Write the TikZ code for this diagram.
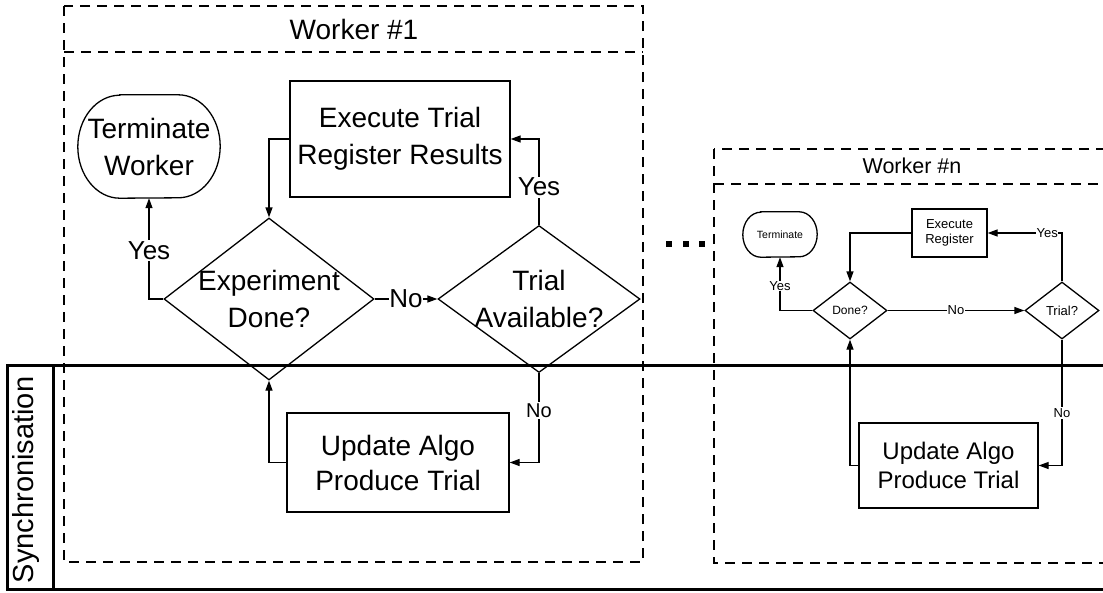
\documentclass[tikz,border=0pt]{standalone}
\usepackage{fontspec}
\setmainfont{Liberation Sans}
\usetikzlibrary{shapes.geometric,arrows.meta,calc}

\tikzset{
  lane/.style={line width=1.2pt, dash pattern=on 10pt off 7pt},
  band/.style={line width=3pt},
  boxline/.style={line width=1.3pt},
  proc/.style={draw, boxline, align=center, inner sep=0pt},
  termtxt/.style={align=center, inner sep=0pt},
  dec/.style={draw, diamond, boxline, inner sep=0pt, aspect=1},
  conn/.style={line width=1.3pt, -{Triangle[length=10pt,width=7pt]}},
  lbl/.style={fill=white, inner sep=1.5pt},
  fbig/.style={font=\fontsize{28}{37}\selectfont},
  fupd/.style={font=\fontsize{28}{35}\selectfont},
  fyes/.style={font=\fontsize{26}{30}\selectfont},
  fno/.style={font=\fontsize{20}{24}\selectfont},
  fsmall/.style={font=\fontsize{13}{15}\selectfont},
  ftiny/.style={font=\fontsize{10.5}{13}\selectfont},
  fmid/.style={font=\fontsize{24}{29}\selectfont},
}

% outline of a terminator: straight top and bottom, elliptic ends
\newcommand\termoutline[3]{%
  \draw[boxline] ($(#1.north west)+(#2,0)$) -- ($(#1.north east)+(-#2,0)$)
    arc[start angle=90, end angle=-90, x radius=#2, y radius=#3]
    -- ($(#1.south west)+(#2,0)$)
    arc[start angle=270, end angle=90, x radius=#2, y radius=#3] -- cycle;}

\begin{document}
\begin{tikzpicture}[x=1pt, y=1pt]
\useasboundingbox (0,0) rectangle (1103,-592);
\clip (0,0) rectangle (1103,-592);
\fill[white] (0,0) rectangle (1103,-592);

% synchronisation band
\draw[band] (7,-365) rectangle (1120,-589);
\draw[band] (53,-365) -- (53,-589);
\node[rotate=90, font=\fontsize{29}{34}\selectfont] (sync) at (26,-480) {Synchronisation};

% ---------------- worker 1 ----------------
\draw[lane] (64,-6) rectangle (643,-562);
\draw[lane] (64,-52) -- (643,-52);
\node[fbig] (w1) at (354,-29) {Worker \#1};

\node[termtxt, fbig, minimum width=142pt, minimum height=103pt] (tm1) at (149,-146.5) {Terminate\\Worker};
\termoutline{tm1}{42}{51.5}
\node[proc, fbig, minimum width=220pt, minimum height=116pt] (ex1) at (400,-139) {Execute Trial\\Register Results};
\node[dec, minimum width=210pt, minimum height=162pt,
      label={[fbig, align=center]center:{Experiment\\Done?}}] (dn1) at (269,-299) {};
\node[dec, minimum width=202pt, minimum height=147pt,
      label={[fbig, align=center]center:{Trial\\Available?}}] (tr1) at (539,-299) {};
\node[proc, fupd, minimum width=222pt, minimum height=99pt] (up1) at (398,-462.5) {Update Algo\\Produce Trial};

\draw[conn] (ex1.west) -| (dn1.north);
\draw[conn] (tr1.north) |- node[lbl, fyes, pos=0.22] {Yes} (ex1.east);
\draw[conn] (dn1.west) -| node[lbl, fyes, pos=0.74] {Yes} (tm1.south);
\draw[conn] (dn1.east) -- node[lbl, fyes, inner sep=0.5pt] {No} (tr1.west);
\draw[conn] (up1.west) -| (dn1.south);
\draw[conn] (tr1.south) |- node[lbl, fno, pos=0.21] {No} (up1.east);

% ellipsis between workers
\foreach \dx in {669,686,702}
  \fill (\dx-2.8,-241.2) rectangle (\dx+2.8,-246.8);

% ---------------- worker n ----------------
\draw[lane] (714,-149) rectangle (1125,-563);
\draw[lane] (714,-184) -- (1125,-184);
\node[font=\fontsize{21.5}{26}\selectfont] (wn) at (912,-166) {Worker \#n};

\node[termtxt, ftiny, minimum width=74pt, minimum height=45pt] (tmn) at (780,-234.5) {Terminate};
\termoutline{tmn}{18}{22.5}
\node[proc, fsmall, minimum width=75pt, minimum height=48pt] (exn) at (949.5,-233) {Execute\\Register};
\node[dec, minimum width=74pt, minimum height=57pt,
      label={[font=\fontsize{12}{14}\selectfont]center:Done?}] (dnn) at (850,-310.5) {};
\node[dec, minimum width=74pt, minimum height=57pt,
      label={[fsmall]center:Trial?}] (trn) at (1062,-310.5) {};
\node[proc, fmid, minimum width=179pt, minimum height=85pt] (upn) at (948.5,-465.5) {Update Algo\\Produce Trial};

\draw[conn] (exn.west) -| (dnn.north);
\draw[conn] (trn.north) |- node[lbl, fsmall, pos=0.6, inner sep=0.5pt] {Yes} (exn.east);
\draw[conn] (dnn.west) -| node[lbl, fsmall, pos=0.73, inner sep=0.5pt] {Yes} (tmn.south);
\draw[conn] (dnn.east) -- node[lbl, fsmall, inner sep=0.5pt] {No} (trn.west);
\draw[conn] (upn.west) -| (dnn.south);
\draw[conn] (trn.south) |- node[lbl, fsmall, pos=0.29] {No} (upn.east);
\end{tikzpicture}
\end{document}
